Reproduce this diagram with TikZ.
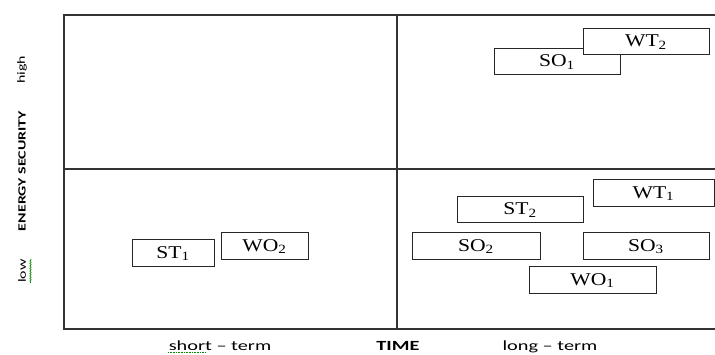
\documentclass[tikz,border=0pt]{standalone}
\usepackage{graphicx}
\usepackage{fontspec}
\setmainfont{Liberation Serif}
\newfontfamily\calfont[Ligatures=TeX]{Carlito}
\usetikzlibrary{decorations.pathmorphing}
\begin{document}
\begin{tikzpicture}[x=1pt,y=-1pt,
  frame/.style={draw=black!80, line width=1.3pt},
  box/.style={draw=black!85, line width=1pt, fill=white},
  boxlab/.style={inner sep=0pt, font=\fontsize{18}{18}\selectfont},
  axlab/.style={font=\calfont\fontsize{14}{14}\selectfont, inner sep=0pt},
  sidelab/.style={font=\calfont\fontsize{11}{11}\selectfont, inner sep=0pt, rotate=90},
  spell/.style={draw=green!55!black, line width=0.6pt}
]
\useasboundingbox (0,0) rectangle (715,354);
% frame
\draw[frame] (715,15) -- (64,15) -- (64,329) -- (715,329);
\draw[frame] (397,15) -- (397,329);
\draw[frame] (64,169) -- (715,169);
% boxes
\newcommand{\qbox}[6]{\path[box] (#2,#3) rectangle (#4,#5); \node[boxlab] (#1) at ({(#2+#4)/2},{(#3+#5)/2+1}) {\scalebox{1.2}[1]{#6}};}
\qbox{so1}{494}{48}{620}{74}{SO\textsubscript{1}}
\qbox{wt2}{583}{28}{709}{54}{WT\textsubscript{2}}
\qbox{wt1}{593}{179}{714}{206}{WT\textsubscript{1}}
\qbox{st2}{457}{196}{583}{222}{ST\textsubscript{2}}
\qbox{so2}{412}{232}{540}{259}{SO\textsubscript{2}}
\qbox{so3}{583}{232}{709}{259}{SO\textsubscript{3}}
\qbox{wo1}{529}{266}{656}{293}{WO\textsubscript{1}}
\qbox{st1}{132}{239}{214}{266}{ST\textsubscript{1}}
\qbox{wo2}{221}{232}{308}{259}{WO\textsubscript{2}}
% axis labels
\node[sidelab] (high) at (22,70) {\scalebox{1.45}[1]{high}};
\node[sidelab, font=\calfont\bfseries\fontsize{11}{11}\selectfont] (es) at (22,171) {\scalebox{1.45}[1]{ENERGY SECURITY}};
\node[sidelab] (low) at (22,271) {\scalebox{1.45}[1]{low}};
\node[axlab, anchor=base] (short) at (220,350.3) {\scalebox{1.45}[1]{short – term}};
\node[axlab, anchor=base, font=\calfont\bfseries\fontsize{14}{14}\selectfont] (time) at (398,350.3) {\scalebox{1.45}[1]{TIME}};
\node[axlab, anchor=base] (long) at (550,350.3) {\scalebox{1.45}[1]{long – term}};
\draw[spell, decorate, decoration={snake, amplitude=0.7pt, segment length=2.5pt}] (30.5,259) -- (30.5,283);
\draw[spell, densely dotted] (168,352.5) -- (205,352.5);
\end{tikzpicture}
\end{document}
